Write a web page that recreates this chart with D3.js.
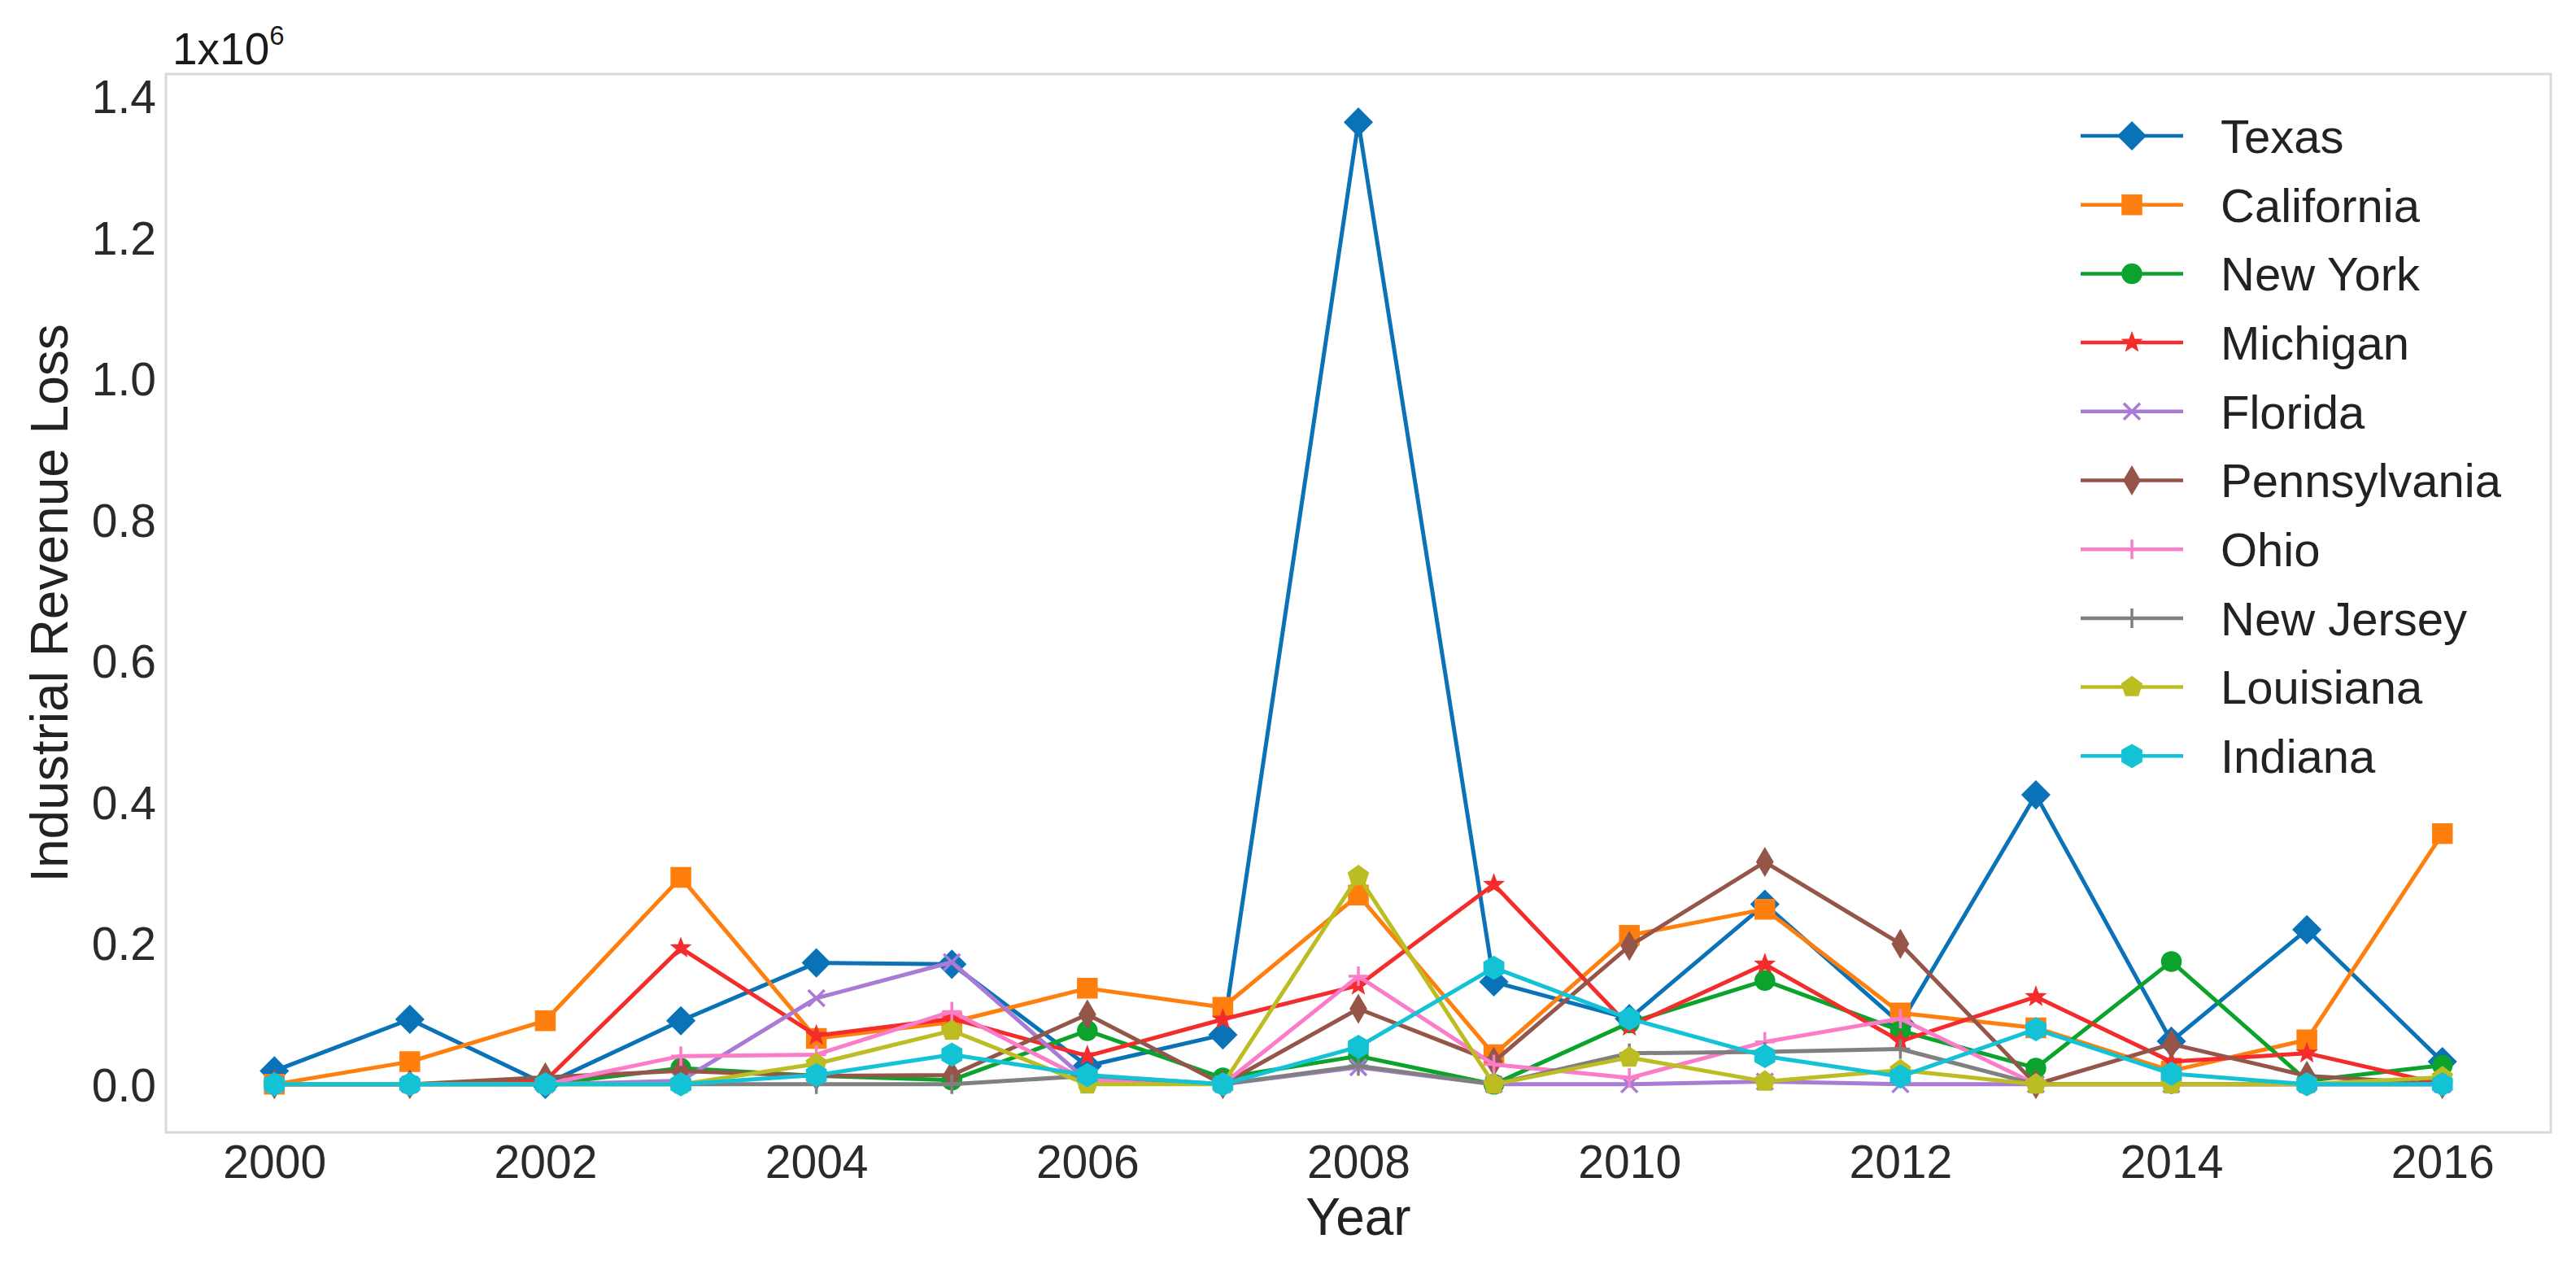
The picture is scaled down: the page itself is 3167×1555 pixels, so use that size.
<!DOCTYPE html>
<html>
<head>
<meta charset="utf-8">
<script src="https://cdn.jsdelivr.net/npm/d3@7"></script>
<style>
  html, body { margin: 0; padding: 0; background: #ffffff; }
  svg { display: block; }
  text { font-family: "Liberation Sans", Arial, Helvetica, sans-serif; }
</style>
</head>
<body>
<svg id="chart" width="3167" height="1555"></svg>
<script>
// ---------------- data ----------------
const years = [2000, 2001, 2002, 2003, 2004, 2005, 2006, 2007, 2008, 2009, 2010, 2011, 2012, 2013, 2014, 2015, 2016];
const states = ["Texas", "California", "New York", "Michigan", "Florida", "Pennsylvania", "Ohio", "New Jersey", "Louisiana", "Indiana"];
const texas        = [19000, 92000, 0, 90000, 172000, 170000, 26000, 70000, 1363000, 145000, 93000, 255000, 86000, 410000, 61000, 219000, 32000];
const california   = [0, 32000, 90000, 293000, 65000, 88000, 136000, 109000, 268000, 42000, 211000, 248000, 101000, 80000, 19000, 63000, 355000];
const newYork      = [0, 0, 0, 23000, 12000, 6000, 76000, 9000, 40000, 0, 87000, 147000, 76000, 23000, 174000, 5000, 27000];
const michigan     = [0, 0, 5000, 193000, 69000, 93000, 40000, 92000, 140000, 283000, 82000, 170000, 61000, 124000, 32000, 44000, 0];
const florida      = [0, 0, 0, 5000, 122000, 173000, 5000, 0, 24000, 0, 0, 4000, 0, 0, 0, 0, 0];
const pennsylvania = [0, 0, 10000, 19000, 12000, 13000, 99000, 0, 107000, 32000, 196000, 315000, 199000, 0, 57000, 12000, 0];
const ohio         = [0, 0, 0, 40000, 42000, 103000, 5000, 0, 153000, 28000, 9000, 60000, 93000, 0, 0, 0, 0];
const newJersey    = [0, 0, 0, 0, 0, 0, 12000, 0, 26000, 0, 44000, 46000, 50000, 0, 0, 0, 0];
const louisiana    = [0, 0, 0, 0, 29000, 76000, 0, 0, 295000, 0, 38000, 4000, 20000, 0, 0, 0, 10000];
const indiana      = [0, 0, 0, 0, 13000, 42000, 13000, 0, 53000, 165000, 93000, 40000, 11000, 78000, 15000, 0, 0];
const seriesValues = [texas, california, newYork, michigan, florida, pennsylvania, ohio, newJersey, louisiana, indiana];
const xTicks = [2000, 2002, 2004, 2006, 2008, 2010, 2012, 2014, 2016];
const yTicks = [0, 200000, 400000, 600000, 800000, 1000000, 1200000, 1400000];
const yTickLabels = ["0.0", "0.2", "0.4", "0.6", "0.8", "1.0", "1.2", "1.4"];

// ---------------- styles ----------------
const colors  = ["#0a73b8", "#ff7f0e", "#0ba32c", "#f42c2c", "#a97bd4", "#955548", "#fb7dca", "#808080", "#bcbd22", "#14c2d6"];
const markers = ["D", "s", "o", "*", "x", "d", "+", "+", "p", "h"];

function markerPath(type) {
  const p = d3.path();
  if (type === "D") { const r = 17; p.moveTo(0,-r); p.lineTo(r,0); p.lineTo(0,r); p.lineTo(-r,0); p.closePath(); }
  else if (type === "d") { const w = 10, h = 17; p.moveTo(0,-h); p.lineTo(w,0); p.lineTo(0,h); p.lineTo(-w,0); p.closePath(); }
  else if (type === "s") { const r = 12; p.rect(-r,-r,2*r,2*r); }
  else if (type === "o") { p.arc(0,0,12,0,2*Math.PI); p.closePath(); }
  else if (type === "*") {
    const ro = 12, ri = 5;
    for (let i = 0; i < 10; i++) {
      const a = -Math.PI/2 + i*Math.PI/5, r = i % 2 ? ri : ro;
      if (i === 0) p.moveTo(r*Math.cos(a), r*Math.sin(a)); else p.lineTo(r*Math.cos(a), r*Math.sin(a));
    }
    p.closePath();
  }
  else if (type === "x") { const r = 10; p.moveTo(-r,-r); p.lineTo(r,r); p.moveTo(-r,r); p.lineTo(r,-r); }
  else if (type === "+") { const r = 12; p.moveTo(-r,0); p.lineTo(r,0); p.moveTo(0,-r); p.lineTo(0,r); }
  else if (type === "p") {
    const r = 13;
    for (let i = 0; i < 5; i++) { const a = -Math.PI/2 + i*2*Math.PI/5; if (i===0) p.moveTo(r*Math.cos(a), r*Math.sin(a)); else p.lineTo(r*Math.cos(a), r*Math.sin(a)); }
    p.closePath();
  }
  else if (type === "h") {
    const r = 14;
    for (let i = 0; i < 6; i++) { const a = -Math.PI/2 + i*Math.PI/3; if (i===0) p.moveTo(r*Math.cos(a), r*Math.sin(a)); else p.lineTo(r*Math.cos(a), r*Math.sin(a)); }
    p.closePath();
  }
  return p.toString();
}
const strokeOnly = t => (t === "x" || t === "+");

// ---------------- layout ----------------
const svg = d3.select("#chart");
const plot = { left: 204, right: 3136, top: 91, bottom: 1392 };

const xExtent = d3.extent(years);
const xPad = (xExtent[1] - xExtent[0]) * 0.05;
const x = d3.scaleLinear().domain([xExtent[0] - xPad, xExtent[1] + xPad]).range([plot.left, plot.right]);

const yMax = d3.max(seriesValues, s => d3.max(s));
const yPad = yMax * 0.05;
const y = d3.scaleLinear().domain([0 - yPad, yMax + yPad]).range([plot.bottom, plot.top]);

svg.append("rect").attr("width", 3167).attr("height", 1555).attr("fill", "#ffffff");

// frame
svg.append("rect")
  .attr("x", plot.left).attr("y", plot.top)
  .attr("width", plot.right - plot.left).attr("height", plot.bottom - plot.top)
  .attr("fill", "none").attr("stroke", "#d9d9d9").attr("stroke-width", 3);

// axes (labels only, no tick marks)
const xAxis = d3.axisBottom(x).tickValues(xTicks).tickFormat(d3.format("d")).tickSize(0).tickPadding(0);
const gx = svg.append("g").attr("transform", `translate(0,${plot.bottom})`).call(xAxis);
gx.select(".domain").remove();
gx.selectAll("text")
  .attr("y", 56).attr("dy", null)
  .attr("font-size", 57).attr("fill", "#2a2a2a")
  .attr("font-family", "Liberation Sans, Arial, sans-serif");

const yAxis = d3.axisLeft(y).tickValues(yTicks).tickFormat((d, i) => yTickLabels[i]).tickSize(0).tickPadding(0);
const gy = svg.append("g").attr("transform", `translate(${plot.left - 12},0)`).call(yAxis);
gy.select(".domain").remove();
gy.selectAll("text")
  .attr("x", 0).attr("dy", "0.36em")
  .attr("font-size", 57).attr("fill", "#2a2a2a")
  .attr("font-family", "Liberation Sans, Arial, sans-serif");

// offset text
const off = svg.append("text").attr("x", 212).attr("y", 79).attr("font-size", 55).attr("fill", "#1a1a1a");
off.append("tspan").text("1x10");
off.append("tspan").attr("font-size", 33).attr("dy", -24).text("6");

// axis titles
svg.append("text")
  .attr("x", (plot.left + plot.right) / 2).attr("y", 1518)
  .attr("text-anchor", "middle").attr("font-size", 64).attr("fill", "#222222")
  .text("Year");
svg.append("text")
  .attr("transform", `translate(83,${(plot.top + plot.bottom) / 2}) rotate(-90)`)
  .attr("text-anchor", "middle").attr("font-size", 64).attr("fill", "#222222")
  .text("Industrial Revenue Loss");

// series
const line = d3.line().x((d, i) => x(years[i])).y(d => y(d));
svg.append("defs").append("clipPath").attr("id", "plotclip")
  .append("rect").attr("x", plot.left).attr("y", plot.top)
  .attr("width", plot.right - plot.left).attr("height", plot.bottom - plot.top);

const gSeries = svg.append("g").attr("clip-path", "url(#plotclip)");
seriesValues.forEach((vals, si) => {
  const g = gSeries.append("g");
  g.append("path").datum(vals)
    .attr("d", line).attr("fill", "none")
    .attr("stroke", colors[si]).attr("stroke-width", 5)
    .attr("stroke-linejoin", "round");
  const mpath = markerPath(markers[si]);
  g.selectAll("path.m").data(vals).enter().append("path")
    .attr("class", "m")
    .attr("transform", (d, i) => `translate(${x(years[i])},${y(d)})`)
    .attr("d", mpath)
    .attr("fill", strokeOnly(markers[si]) ? "none" : colors[si])
    .attr("stroke", colors[si])
    .attr("stroke-width", strokeOnly(markers[si]) ? 3.5 : 1.5);
});

// legend
const legend = svg.append("g");
const legY0 = 167, legStep = 84.7;
states.forEach((name, si) => {
  const ly = legY0 + si * legStep;
  const g = legend.append("g").attr("transform", `translate(0,${ly})`);
  g.append("line").attr("x1", 2558).attr("x2", 2684).attr("y1", 0).attr("y2", 0)
    .attr("stroke", colors[si]).attr("stroke-width", 4.5);
  g.append("path").attr("transform", "translate(2621,0)")
    .attr("d", markerPath(markers[si]))
    .attr("fill", strokeOnly(markers[si]) ? "none" : colors[si])
    .attr("stroke", colors[si])
    .attr("stroke-width", strokeOnly(markers[si]) ? 3.5 : 1.5);
  g.append("text").attr("x", 2730).attr("y", 0).attr("dy", "0.36em")
    .attr("font-size", 58).attr("fill", "#222222").text(name);
});
</script>
</body>
</html>
